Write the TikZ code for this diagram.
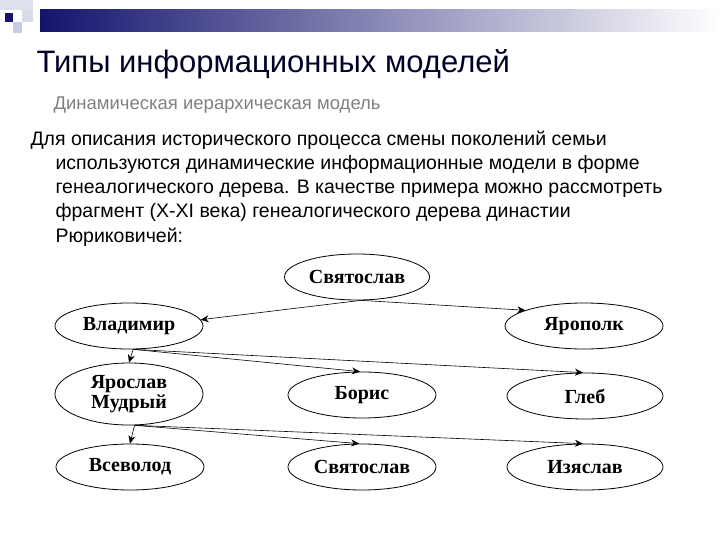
\documentclass[tikz,border=0pt]{standalone}
\usepackage{fontspec}
\setmainfont{Liberation Sans}
\newfontfamily\treefont{Liberation Serif}
\usetikzlibrary{shapes,arrows,arrows.meta,positioning}
\definecolor{navy}{RGB}{20,20,110}
\definecolor{paleblue}{RGB}{200,205,225}
\begin{document}
\begin{tikzpicture}[
    x=1pt, y=-1pt,
    person/.style={ellipse, draw, thick, minimum width=148pt, minimum height=46pt, inner sep=0pt, font=\treefont\fontsize{20}{20}\selectfont\bfseries, align=center},
    line/.style={anchor=base west, font=\fontsize{19.5}{20}\selectfont},
    arrow/.style={-{Stealth[length=8pt,width=7pt]}, semithick}
]
    \useasboundingbox (0,0) rectangle (720,540);
    % Header band
    \fill[paleblue!60] (0,0) rectangle (33,10);
    \fill[paleblue] (13,22) rectangle (22,33);
    \fill[paleblue!70] (22,10) rectangle (33,22);
    \fill[navy] (5,13) rectangle (13,22);
    \shade[left color=navy, right color=white] (40,10) rectangle (720,32);

    % Titles
    \node[anchor=base west, font=\fontsize{31}{34}\selectfont, text=black!85!blue] (title) at (33,73) {Типы информационных моделей};
    \node[anchor=base west, font=\fontsize{18.5}{20}\selectfont, text=gray] (sub) at (50,110) {Динамическая иерархическая модель};
    \node[line] (l1) at (27,146) {Для описания исторического процесса смены поколений семьи};
    \node[line] (l2) at (52,170) {используются динамические информационные модели в форме};
    \node[line] (l3) at (52,194) {генеалогического дерева. В качестве примера можно рассмотреть};
    \node[line] (l4) at (52,218) {фрагмент (X-XI века) генеалогического дерева династии};
    \node[line] (l5) at (52,242) {Рюриковичей:};

    % Tree
    \node[person, minimum width=145pt] (svt) at (357,277) {Святослав};
    \node[person] (vla) at (129,326) {Владимир};
    \node[person, minimum width=158pt] (yrp) at (584,326) {Ярополк};
    \node[person, minimum height=62pt] (yar) at (129,394) {Ярослав\\Мудрый};
    \node[person] (bor) at (362,395) {Борис};
    \node[person, minimum width=156pt] (gle) at (585,396) {Глеб};
    \node[person] (vse) at (130,467) {Всеволод};
    \node[person] (svb) at (362,467) {Святослав};
    \node[person, minimum width=156pt] (izy) at (585,467) {Изяслав};

    % Arrows
    \draw[arrow] (svt.-80) -- (vla.5);
    \draw[arrow] (svt.-80) -- (yrp.165);
    \draw[arrow] (vla.-80) -- (yar.north);
    \draw[arrow] (vla.-80) -- (bor.95);
    \draw[arrow] (vla.-80) -- (gle.95);
    \draw[arrow] (yar.-80) -- (vse.north);
    \draw[arrow] (yar.-80) -- (svb.97);
    \draw[arrow] (yar.-80) -- (izy.95);
\end{tikzpicture}
\end{document}
